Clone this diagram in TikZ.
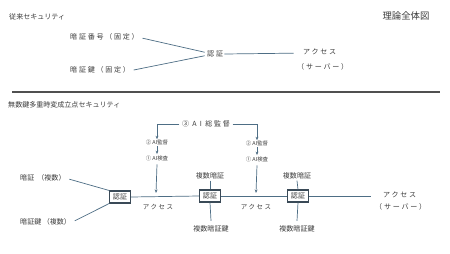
\documentclass[tikz,border=0pt]{standalone}
\usepackage{fontspec}
\newfontfamily\jp{Noto Sans CJK JP}
\newfontfamily\jpwide[LetterSpace=25]{Noto Sans CJK JP}
\usetikzlibrary{arrows.meta}
\definecolor{linecol}{HTML}{4E6E85}
\definecolor{txtcol}{HTML}{3C3C3C}
\definecolor{boxcol}{HTML}{3A4A57}
\definecolor{rulecol}{HTML}{505050}
\tikzset{
  txt/.style={text=txtcol, inner sep=0pt, font=\jp\fontsize{6}{7}\selectfont},
  widetxt/.style={text=txtcol, inner sep=0pt, font=\jpwide\fontsize{6}{7}\selectfont},
  smalltxt/.style={text=txtcol, inner sep=0pt, font=\jp\fontsize{4.6}{5}\selectfont},
  conn/.style={draw=linecol, line width=0.6pt},
  arr/.style={conn, -{Stealth[length=3pt,width=2.4pt]}},
  authbox/.style={draw=boxcol, line width=0.9pt, fill=white, inner sep=0pt,
    minimum width=0.62cm, minimum height=0.36cm, text=txtcol,
    font=\jp\fontsize{6}{7}\selectfont}
}
\begin{document}
\begin{tikzpicture}[x=0.03cm, y=-0.03cm]
		\fill[white] (0,0) rectangle (450,253);
		\useasboundingbox (0,0) rectangle (450,253);
		
		% 見出し
		\node[txt, anchor=west] (oldtitle) at (9,17) {従来セキュリティ};
		\node[text=txtcol, inner sep=0pt, font=\jp\fontsize{8}{9}\selectfont] (title) at (406,16) {理論全体図};
		
		% 従来の認証
		\node[widetxt, anchor=west] (oldpin) at (70,37) {暗証番号（固定）};
		\node[widetxt, anchor=west] (oldkey) at (70,70) {暗証鍵（固定）};
		\node[widetxt, anchor=west] (oldauth) at (207,54) {認証};
		\node[widetxt, anchor=west] (oldaccess) at (303,52) {アクセス};
		\node[widetxt, anchor=west] (oldserver) at (297,67) {（サーバー）};
		\draw[conn] ([xshift=3pt,yshift=-1pt]oldpin.east) -- ([xshift=-2pt,yshift=1.5pt]oldauth.west);
		\draw[conn] ([xshift=3pt]oldkey.east) -- ([xshift=-2pt,yshift=-1.5pt]oldauth.west);
		\draw[conn] ([xshift=1pt]oldauth.east) -- ([xshift=-8pt,yshift=-1pt]oldaccess.west);
		
		% 区切り線
		\draw[rulecol, line width=1.3pt] (12,92) -- (440,92);
		
		% 無数鍵多重時変成立点セキュリティ
		\node[txt, anchor=west] (newtitle) at (8,105) {無数鍵多重時変成立点セキュリティ};
		\node[widetxt] (sup3) at (206,124) {③ A I 総監督};
		
		% 認証ボックス
		\node[authbox] (auth1) at (120,197) {認証};
		\node[authbox] (auth2) at (210,196) {認証};
		\node[authbox] (auth3) at (298,196) {認証};
		
		% 入力
		\node[txt, anchor=west] (pin) at (20,178) {暗証\ \ （複数）};
		\node[txt, anchor=west] (key) at (20,222) {暗証鍵\ （複数）};
		\draw[conn] ([xshift=3pt,yshift=-1pt]pin.east) -- (auth1.north west);
		\draw[conn] ([xshift=3pt,yshift=1pt]key.east) -- (auth1.south west);
		
		% 複数暗証・複数暗証鍵
		\node[txt] (pin2) at (210,176) {複数暗証};
		\node[txt] (key2) at (211,229) {複数暗証鍵};
		\node[txt] (pin3) at (297,176) {複数暗証};
		\node[txt] (key3) at (297,229) {複数暗証鍵};
		\draw[conn] ([yshift=-1pt]pin2.south) -- (auth2.north);
		\draw[conn] (auth2.south) -- ([yshift=4pt]key2.north);
		\draw[conn] ([yshift=-1pt]pin3.south) -- (auth3.north);
		\draw[conn] (auth3.south) -- ([yshift=4pt]key3.north);
		
		% アクセス
		\coordinate (end) at (371,196);
		\draw[conn] (auth1.east) -- (auth2.west);
		\draw[conn] (auth2.east) -- (auth3.west);
		\draw[conn] (auth3.east) -- (end);
		\node[widetxt, font=\jpwide\fontsize{5.5}{6}\selectfont] (access1) at (158,207) {アクセス};
		\node[widetxt, font=\jpwide\fontsize{5.5}{6}\selectfont] (access2) at (256,207) {アクセス};
		\node[widetxt, anchor=west] (access3) at (383,195) {アクセス};
		\node[widetxt, anchor=west] (server) at (375,207) {（サーバー）};
		
		% AI監督・AI検査（左）
		\node[smalltxt] (sup2a) at (157,142) {② AI監督};
		\node[smalltxt] (insp1a) at (157,158) {① AI検査};
		\coordinate (tapa) at (156,193);
		\draw[arr] ([xshift=-2pt]sup3.west) -| (sup2a.north);
		\draw[arr] ([yshift=-1pt]sup2a.south) -- ([yshift=1pt]insp1a.north);
		\draw[arr] ([yshift=-3pt]insp1a.south) -- (tapa);
		
		% AI監督・AI検査（右）
		\node[smalltxt] (sup2b) at (257,143) {② AI監督};
		\node[smalltxt] (insp1b) at (257,159) {① AI検査};
		\coordinate (tapb) at (256,193);
		\draw[arr] ([xshift=2pt]sup3.east) -| (sup2b.north);
		\draw[arr] ([yshift=-1pt]sup2b.south) -- ([yshift=1pt]insp1b.north);
		\draw[arr] ([yshift=-3pt]insp1b.south) -- (tapb);
	\end{tikzpicture}
\end{document}
